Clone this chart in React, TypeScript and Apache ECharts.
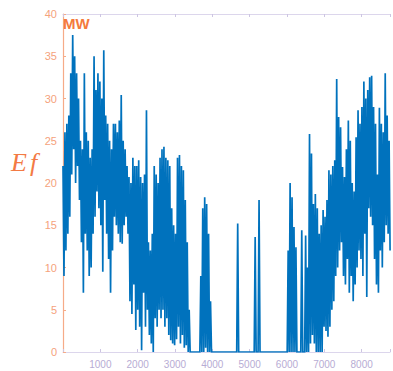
import React, { useEffect, useRef } from "react";
import * as echarts from "echarts";

// hour step between a high and the following low reading
const STEP = 52;
const HOURS = 8760;

// upper reading for each 52-hour block (MW)
const hi = [
  22, 26, 27, 28, 33, 37.5, 35, 33, 30, 25,
  24, 33, 26, 25, 23, 24, 35, 31, 33, 32,
  30, 35.7, 28, 27, 25, 24, 27, 27, 26, 27.4,
  30.4, 25, 24, 22, 20.7, 20, 23, 22, 22, 22.7,
  20.7, 20, 21, 28.6, 13, 12, 14, 22, 21, 20,
  23, 24, 24.3, 23, 22.7, 22, 17, 15, 14, 23,
  23.3, 22, 21.5, 18, 13, 5, 0, 0, 0, 0,
  0, 9, 17, 18.3, 17.5, 14, 6, 0, 0, 0,
  0, 0, 0, 0, 0, 0, 0, 0, 0, 0,
  15.2, 0, 0, 0, 0, 0, 0, 0, 0, 13.6,
  0, 18, 0, 0, 0, 0, 0, 0, 0, 0,
  0, 0, 0, 0, 0, 0, 12, 20, 18.3, 14.8,
  12.4, 0, 0, 14.4, 0, 13.8, 10, 25.8, 23.5, 17.5,
  18.7, 17, 14, 15, 16.8, 16, 18, 21.5, 21, 22,
  22.7, 32.3, 27.8, 26.6, 21.9, 20.7, 24, 27.4, 25, 20,
  19, 25.4, 28.6, 27, 29, 32, 30, 31, 32.5, 32.7,
  29, 27, 21, 28.9, 27, 26, 33, 28, 25,
];

// lower reading for each 52-hour block (MW)
const lo = [
  9, 12, 14, 16, 21, 24, 20, 22, 18, 13,
  7, 14, 12, 9, 10, 14, 16, 19, 17, 15,
  9.5, 18, 14, 11, 7, 12, 16, 15, 14, 13,
  12.8, 15, 16, 14, 6, 4.5, 8, 2.6, 5, 3,
  0.2, 7, 3, 5, 2, 1, 0, 4, 3, 5,
  4, 5, 3, 4, 2, 1.4, 1, 0.8, 1.5, 3,
  1, 2, 0.5, 0.8, 0, 0, 0, 0, 0, 0,
  0, 0, 0, 0.5, 0, 0, 0, 0, 0, 0,
  0, 0, 0, 0, 0, 0, 0, 0, 0, 0,
  0, 0, 0, 0, 0, 0, 0, 0, 0, 0,
  0, 0, 0, 0, 0, 0, 0, 0, 0, 0,
  0, 0, 0, 0, 0, 0, 0, 0, 0, 0,
  0, 0, 0, 0, 0, 0, 0, 1, 2, 1,
  0, 0, 0, 0, 3, 2.5, 1.8, 3, 5, 6,
  9, 10, 12, 13, 9, 8, 11, 7, 9, 6,
  8, 10, 12, 11, 9, 14, 6.5, 17, 16, 15,
  11, 8, 7, 12, 10, 13, 15, 14, 12,
];

const X_MAX = HOURS;
const X_INTERVAL = 1000;
const Y_MAX = 40;
const Y_INTERVAL = 5;

export default function App() {
  const ref = useRef<HTMLDivElement>(null);

  useEffect(() => {
    if (!ref.current) return;
    const chart = echarts.init(ref.current, undefined, { renderer: "svg" });

    const data: [number, number][] = [];
    for (let i = 0; i < hi.length; i++) {
      data.push([i * STEP, hi[i]]);
      data.push([i * STEP + STEP / 2, lo[i]]);
    }

    const axisLineColor = "#dcd6ec";
    const xLabelColor = "#b7acd4";
    const yColor = "#f6ab88";

    chart.setOption({
      animation: false,
      grid: { left: 63, top: 14, width: 338, height: 338 },
      xAxis: [
        {
          type: "value",
          min: 0,
          max: X_MAX,
          interval: X_INTERVAL,
          position: "bottom",
          axisLine: { show: true, lineStyle: { color: axisLineColor, width: 1.2 } },
          axisTick: { show: true, inside: true, length: 3, lineStyle: { color: "#cdc5e2" } },
          axisLabel: {
            color: xLabelColor,
            fontSize: 10,
            margin: 7,
            fontFamily: "Liberation Sans, Arial, sans-serif",
            formatter: (v: number) => (v > 0 && v % 1000 === 0 ? String(v) : ""),
          },
          splitLine: { show: false },
        },
        {
          type: "value",
          min: 0,
          max: X_MAX,
          interval: X_INTERVAL,
          position: "top",
          axisLine: { show: true, lineStyle: { color: axisLineColor, width: 1.2 } },
          axisTick: { show: true, inside: true, length: 3, lineStyle: { color: "#cdc5e2" } },
          axisLabel: { show: false },
          splitLine: { show: false },
        },
      ],
      yAxis: {
        type: "value",
        min: 0,
        max: Y_MAX,
        interval: Y_INTERVAL,
        axisLine: { show: true, lineStyle: { color: yColor, width: 1.2 } },
        axisTick: { show: true, inside: true, length: 3, lineStyle: { color: yColor } },
        axisLabel: {
          color: "#f5a27c",
          fontSize: 11,
          margin: 6,
          fontFamily: "Liberation Sans, Arial, sans-serif",
        },
        splitLine: { show: false },
      },
      series: [
        {
          type: "line",
          data,
          xAxisIndex: 0,
          symbol: "none",
          showSymbol: false,
          lineStyle: { color: "#0072BD", width: 1.7, join: "miter", miterLimit: 2 },
          z: 3,
        },
      ],
      graphic: [
        {
          type: "text",
          x: 63,
          y: 16,
          z: 10,
          style: {
            text: "MW",
            font: 'bold 15px "Liberation Sans", Arial, sans-serif',
            fill: "#f47a3c",
            textVerticalAlign: "top",
          },
        },
        {
          type: "text",
          x: 11,
          y: 149,
          style: {
            text: "E",
            font: 'italic 26px "Liberation Serif", "DejaVu Serif", serif',
            fill: "#f37a44",
            textVerticalAlign: "top",
          },
        },
        {
          type: "text",
          x: 30,
          y: 149,
          style: {
            text: "f",
            font: 'italic 26px "Liberation Serif", "DejaVu Serif", serif',
            fill: "#f37a44",
            textVerticalAlign: "top",
          },
        },
      ],
    });

    return () => chart.dispose();
  }, []);

  return (
    <div
      style={{ position: "fixed", left: 0, top: 0, width: 393, height: 371, overflow: "hidden", background: "#fff" }}
    >
      <div ref={ref} style={{ width: 393, height: 371 }} />
    </div>
  );
}
